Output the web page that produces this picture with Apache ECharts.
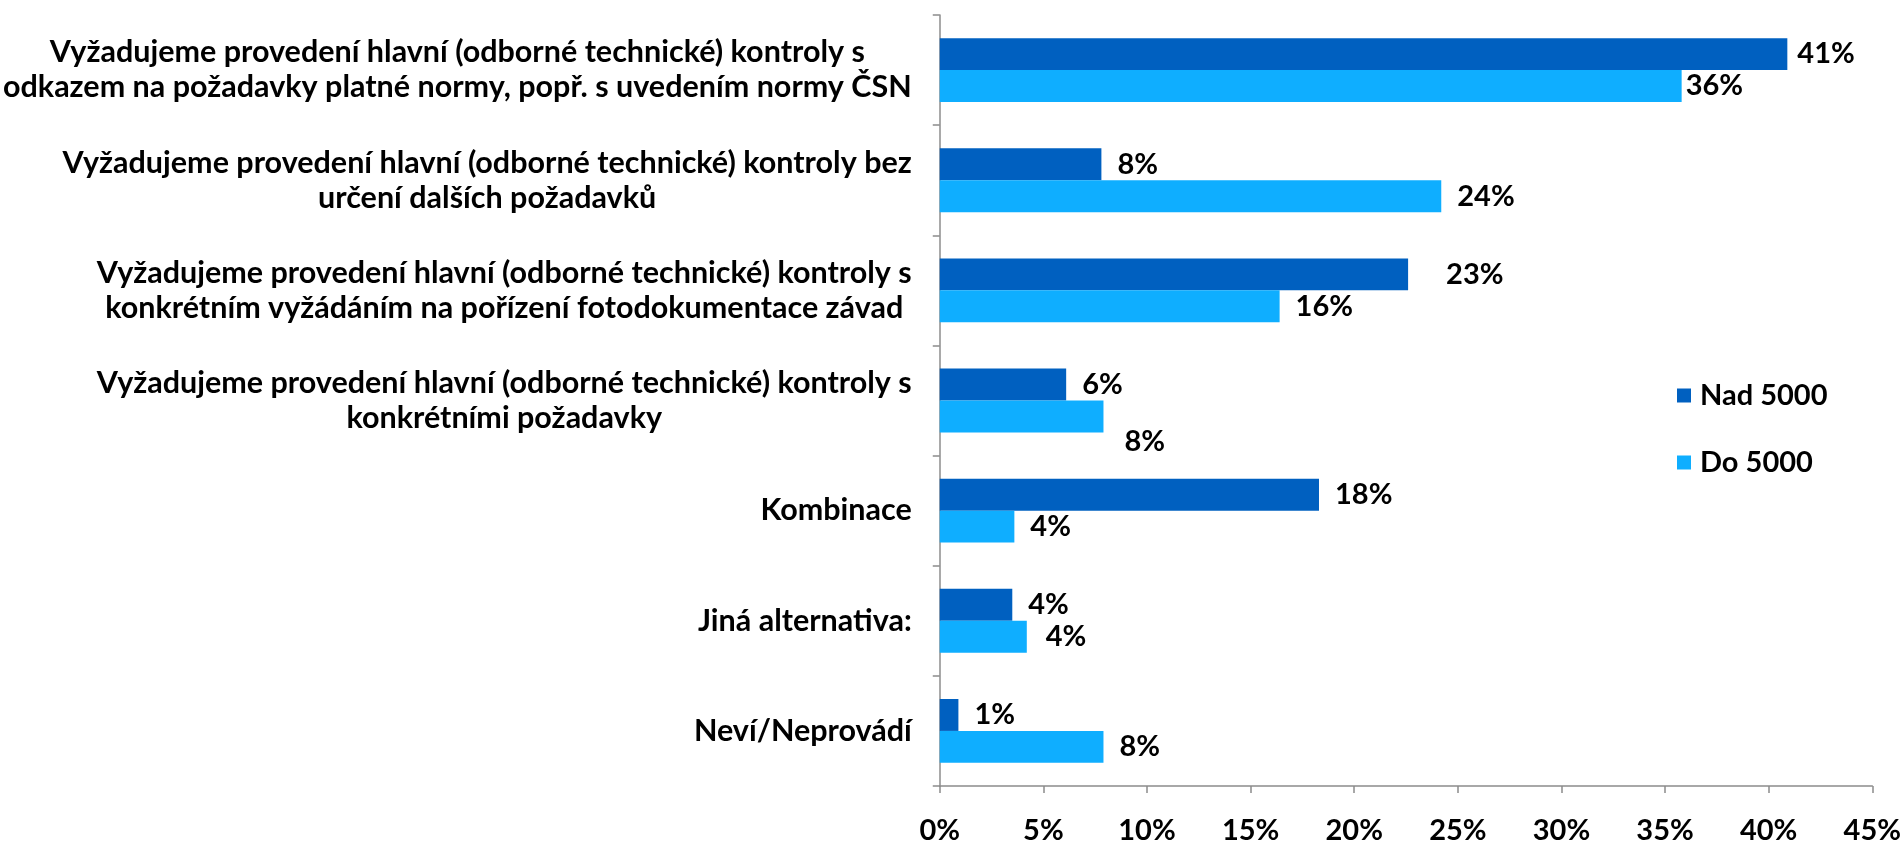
<!DOCTYPE html>
<html>
<head>
<meta charset="utf-8">
<script src="https://cdn.jsdelivr.net/npm/echarts@6/dist/echarts.min.js"></script>
<style>
html,body{margin:0;padding:0;background:#fff;}
#chart{width:1904px;height:845px;}
</style>
</head>
<body>
<div id="chart"></div>
<script>
const categories = [
  'Vyžadujeme provedení hlavní (odborné technické) kontroly s\nodkazem na požadavky platné normy, popř. s uvedením normy ČSN',
  'Vyžadujeme provedení hlavní (odborné technické) kontroly bez\nurčení dalších požadavků',
  'Vyžadujeme provedení hlavní (odborné technické) kontroly s\nkonkrétním vyžádáním na pořízení fotodokumentace závad',
  'Vyžadujeme provedení hlavní (odborné technické) kontroly s\nkonkrétními požadavky',
  'Kombinace',
  'Jiná alternativa:',
  'Neví/Neprovádí'
];
const seriesNames = ['Nad 5000', 'Do 5000'];
const nad5000 = [40.9, 7.8, 22.6, 6.1, 18.3, 3.5, 0.9];
const do5000 = [35.8, 24.2, 16.4, 7.9, 3.6, 4.2, 7.9];
const xTicks = [0, 5, 10, 15, 20, 25, 30, 35, 40, 45];

// label nudges (style only): [dx, dy]
const nadNudge = [[-6,0],[0,0],[22,0],[0,0],[0,0],[0,0],[0,0]];
const doNudge = [[-12,0],[0,0],[0,0],[5,25],[0,0],[3,0],[0,0]];

const FONT = 'Lato';
const colors = ['#0060C0', '#0FAEFF'];

function mkData(vals, nudge) {
  return vals.map((v, i) => ({
    value: v,
    label: { offset: nudge[i] }
  }));
}

const chart = echarts.init(document.getElementById('chart'));
chart.setOption({
  animation: false,
  textStyle: { fontFamily: FONT },
  grid: { left: 939, right: 30, top: 15, bottom: 52, containLabel: false },
  legend: {
    orient: 'vertical',
    left: 1672,
    top: 376,
    itemWidth: 14,
    itemHeight: 14,
    itemGap: 38,
    icon: 'rect',
    data: seriesNames,
    textStyle: { fontFamily: FONT, fontWeight: 'bold', fontSize: 29, color: '#000', padding: [0,0,0,4] }
  },
  xAxis: {
    type: 'value',
    min: xTicks[0],
    max: xTicks[xTicks.length - 1],
    interval: xTicks[1] - xTicks[0],
    splitLine: { show: false },
    axisLine: { show: true, lineStyle: { color: '#8c8c8c', width: 1.5 } },
    axisTick: { show: true, length: 7, lineStyle: { color: '#8c8c8c', width: 1.5 } },
    axisLabel: {
      margin: 30,
      formatter: '{value}%',
      fontFamily: FONT, fontWeight: 'bold', fontSize: 29, color: '#000'
    }
  },
  yAxis: {
    type: 'category',
    inverse: true,
    data: categories,
    axisLine: { show: true, lineStyle: { color: '#8c8c8c', width: 1.5 } },
    axisTick: { show: true, length: 7, lineStyle: { color: '#8c8c8c', width: 1.5 } },
    axisLabel: {
      margin: 28,
      interval: 0,
      formatter: function (v) {
        return v.split('\n').map(s => '{c|' + s + '}').join('\n');
      },
      rich: {
        c: { align: 'center', fontFamily: FONT, fontWeight: 'bold', fontSize: 30.5, lineHeight: 35, color: '#000' }
      }
    }
  },
  series: [
    {
      name: seriesNames[0],
      type: 'bar',
      data: mkData(nad5000, nadNudge),
      itemStyle: { color: colors[0] },
      barGap: '0%',
      barCategoryGap: '42%',
      label: {
        show: true, position: 'right', distance: 16,
        formatter: p => Math.round(p.value) + '%',
        fontFamily: FONT, fontWeight: 'bold', fontSize: 29, color: '#000'
      }
    },
    {
      name: seriesNames[1],
      type: 'bar',
      data: mkData(do5000, doNudge),
      itemStyle: { color: colors[1] },
      barGap: '0%',
      barCategoryGap: '42%',
      label: {
        show: true, position: 'right', distance: 16,
        formatter: p => Math.round(p.value) + '%',
        fontFamily: FONT, fontWeight: 'bold', fontSize: 29, color: '#000'
      }
    }
  ]
});
</script>
</body>
</html>
